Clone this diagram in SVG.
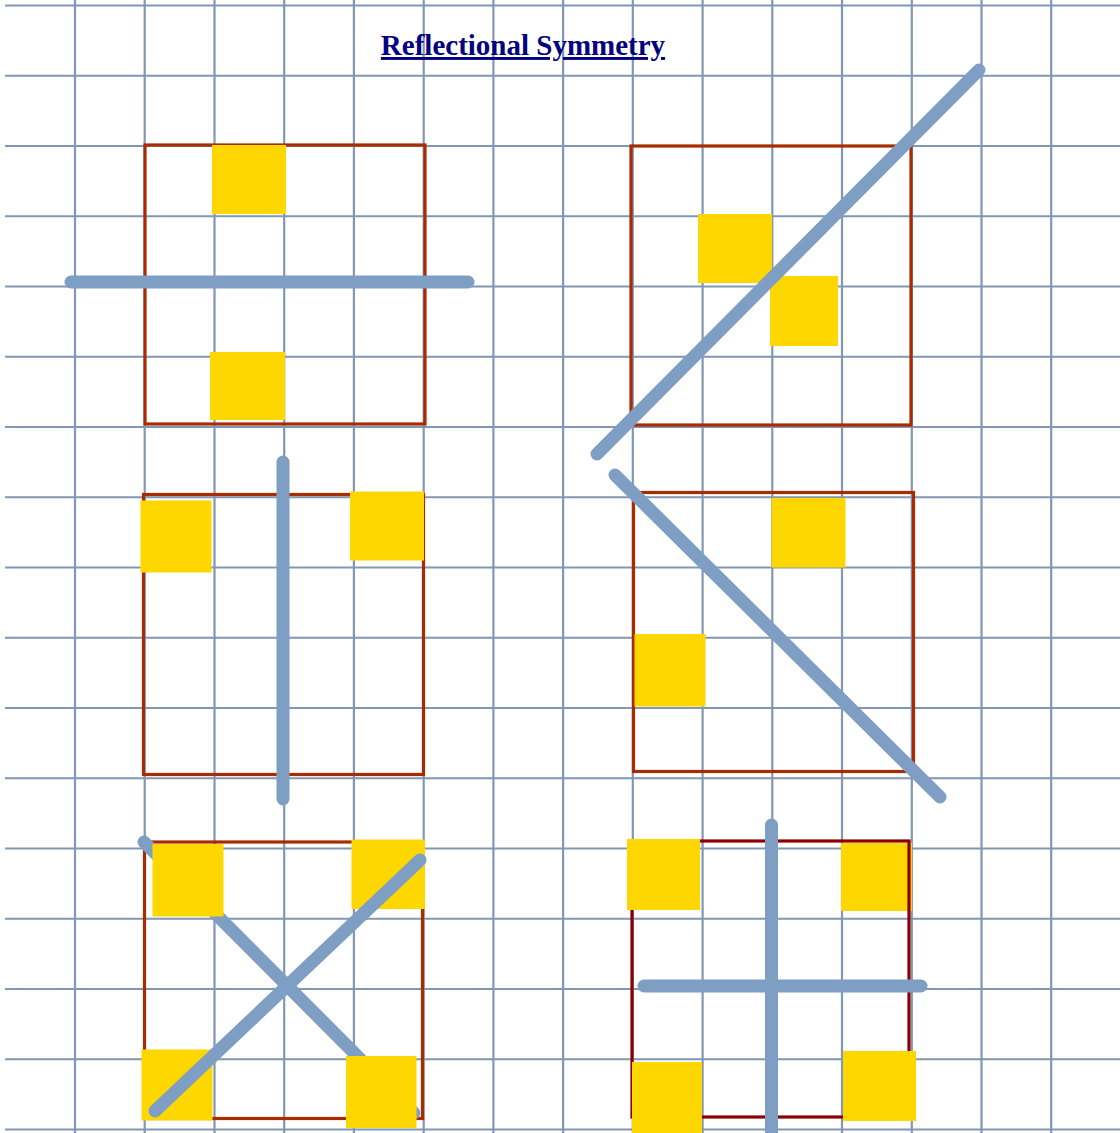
<svg xmlns="http://www.w3.org/2000/svg" width="1120" height="1133" viewBox="0 0 1120 1133">
<style>
.g{stroke:#8197b3;stroke-width:2.2;fill:none}
.fr{fill:none;stroke:#a82c00;stroke-width:3.2}
.fr2{fill:none;stroke:#8b0000;stroke-width:3.2}
.sq{fill:#ffd700}
.ax{stroke:#7e9ec3;stroke-width:13;stroke-linecap:round;fill:none}
.t{font-family:"Liberation Serif","Times New Roman",serif;font-weight:bold;font-size:29px;fill:#000080;text-decoration:underline}
</style>
<rect width="1120" height="1133" fill="#ffffff"/>
<g id="grid">
<path class="g" d="M5 5.5H1120M5 75.75H1120M5 146H1120M5 216.25H1120M5 286.5H1120M5 356.75H1120M5 427H1120M5 497.25H1120M5 567.5H1120M5 637.75H1120M5 708H1120M5 778.25H1120M5 848.5H1120M5 918.75H1120M5 989H1120M5 1059.25H1120M5 1129.5H1120"/>
<path class="g" d="M75 0V1133M144.7 0V1133M214.5 0V1133M284.2 0V1133M353.9 0V1133M423.7 0V1133M493.4 0V1133M563.1 0V1133M632.8 0V1133M702.6 0V1133M772.3 0V1133M842 0V1133M911.8 0V1133M981.5 0V1133M1051.2 0V1133"/>
</g>
<text id="title" class="t" x="523" y="55" text-anchor="middle">Reflectional Symmetry</text>
<g id="panel1">
<rect class="fr" x="145" y="145" width="280" height="279"/>
<rect class="sq" x="212" y="145" width="74" height="69"/>
<rect class="sq" x="210" y="352" width="75" height="68"/>
</g>
<g id="panel2">
<rect class="fr" x="631" y="146" width="280" height="279"/>
<rect class="sq" x="698" y="214" width="74" height="69"/>
<rect class="sq" x="770" y="276" width="68" height="70"/>
</g>
<g id="panel3">
<rect class="fr" x="143.5" y="494.5" width="280" height="280"/>
<rect class="sq" x="140.5" y="500.5" width="71" height="72"/>
<rect class="sq" x="350" y="491.5" width="74" height="69"/>
</g>
<g id="panel4">
<rect class="fr" x="633.5" y="492.5" width="280" height="279"/>
<rect class="sq" x="771.5" y="498" width="74" height="69.5"/>
<rect class="sq" x="634.5" y="634" width="71" height="72.5"/>
</g>
<g id="panel5">
<rect class="fr" x="144.5" y="842" width="278" height="276.5"/>
</g>
<g id="panel6">
<rect class="sq" x="841" y="843" width="71" height="68"/>
<rect class="fr2" x="632" y="841" width="277" height="276"/>
<rect class="sq" x="627" y="839" width="73" height="71"/>
<rect class="sq" x="632" y="1062" width="70" height="71"/>
<rect class="sq" x="843" y="1051" width="73" height="70"/>
</g>
<g id="connectors">
<line class="ax" x1="71" y1="282" x2="468" y2="282"/>
<line class="ax" x1="597" y1="454" x2="979" y2="70"/>
<line class="ax" x1="283" y1="462" x2="283" y2="799"/>
<line class="ax" x1="615" y1="475" x2="940" y2="797"/>
<line class="ax" x1="144" y1="842" x2="414" y2="1113"/>
<line class="ax" x1="771.5" y1="825" x2="771.5" y2="1140"/>
<line class="ax" x1="644" y1="986" x2="921" y2="986"/>
</g>
<g id="panel5-squares">
<rect class="sq" x="152.5" y="844" width="71" height="72.5"/>
<rect class="sq" x="351.5" y="839.5" width="73.5" height="69.5"/>
<rect class="sq" x="141.5" y="1049.5" width="71" height="71"/>
<rect class="sq" x="346" y="1056" width="70.5" height="72"/>
</g>
<g id="connectors-top">
<line class="ax" x1="155" y1="1111" x2="420" y2="860"/>
</g>
</svg>
